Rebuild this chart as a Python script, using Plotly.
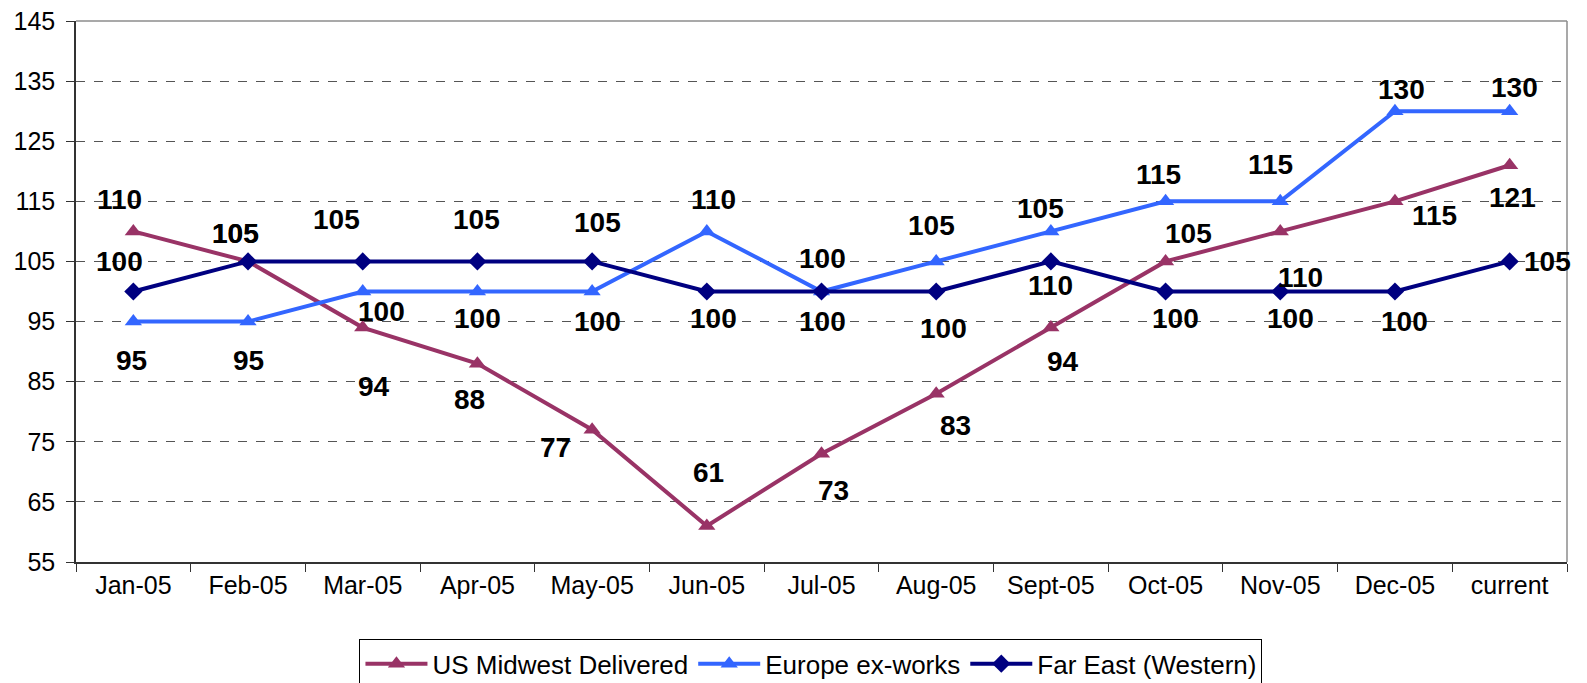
import plotly.graph_objects as go

# Price index by month
months = ["Jan-05", "Feb-05", "Mar-05", "Apr-05", "May-05", "Jun-05", "Jul-05",
          "Aug-05", "Sept-05", "Oct-05", "Nov-05", "Dec-05", "current"]
us_midwest = [110, 105, 94, 88, 77, 61, 73, 83, 94, 105, 110, 115, 121]
europe = [95, 95, 100, 100, 100, 110, 100, 105, 110, 115, 115, 130, 130]
far_east = [100, 105, 105, 105, 105, 100, 100, 100, 105, 100, 100, 100, 105]

y_ticks = [55, 65, 75, 85, 95, 105, 115, 125, 135, 145]

# Per-point label offsets in pixels (dx right, dy down)
us_offsets = [(-14, -32), (-13, -28), (11, 59), (-8, 36), (-37, 18), (2, -53), (12, 37),
              (19, 32), (12, 34), (23, -28), (20, 46), (40, 14), (3, 32)]
eu_offsets = [(-2, 39), (0, 39), (19, 20), (0, 27), (5, 30), (7, -32), (1, -33),
              (-5, -36), (0, 54), (-7, -27), (-10, -37), (7, -22), (5, -24)]
fe_offsets = [(-14, -30), (-13, -28), (-26, -42), (-1, -42), (5, -39), (7, 27), (1, 30),
              (7, 37), (-10, -53), (10, 27), (10, 27), (10, 30), (38, 0)]

FONT = "Liberation Sans, Arial, sans-serif"

series = [
    ("US Midwest Delivered", us_midwest, "#993366", "triangle-up", 15, us_offsets),
    ("Europe ex-works", europe, "#3366FF", "triangle-up", 15, eu_offsets),
    ("Far East (Western)", far_east, "#000080", "diamond", 14, fe_offsets),
]

fig = go.Figure()
annotations = []
for name, vals, color, sym, msize, offs in series:
    fig.add_trace(go.Scatter(
        x=months, y=vals, name=name, mode="lines+markers",
        line=dict(color=color, width=4),
        marker=dict(symbol=sym, size=msize, color=color),
    ))
    for m, v, (dx, dy) in zip(months, vals, offs):
        annotations.append(dict(
            x=m, y=v, xref="x", yref="y", text=str(v), showarrow=False,
            xshift=dx, yshift=-dy,
            font=dict(family=FONT, size=28, color="black", weight="bold"),
        ))

fig.update_layout(
    width=1587, height=683,
    margin=dict(l=76, r=20, t=21, b=121, autoexpand=False),
    paper_bgcolor="white", plot_bgcolor="white",
    font=dict(family=FONT, color="black"),
    annotations=annotations,
    showlegend=True,
    legend=dict(
        orientation="h", xref="container", yref="container",
        x=0.511, xanchor="center", y=0.064, yanchor="top",
        bordercolor="black", borderwidth=1, bgcolor="white",
        font=dict(family=FONT, size=26, color="black"),
        itemwidth=62, traceorder="normal",
    ),
    shapes=[
        # light frame on the top and right of the plot area
        dict(type="line", xref="paper", yref="paper", x0=0, x1=1, y0=1, y1=1,
             line=dict(color="#8c8c8c", width=1.5)),
        dict(type="line", xref="paper", yref="paper", x0=1, x1=1, y0=0, y1=1,
             line=dict(color="#8c8c8c", width=1.5)),
    ],
)

fig.update_xaxes(
    type="category", range=[-0.5, len(months) - 0.5],
    showline=True, linecolor="#333333", linewidth=1.5,
    ticks="outside", tickson="boundaries", ticklen=8, tickcolor="#333333",
    showgrid=False, tickfont=dict(family=FONT, size=25, color="black"),
    zeroline=False,
)
fig.update_yaxes(
    range=[55, 145], tickvals=y_ticks,
    showline=True, linecolor="#333333", linewidth=1.5,
    ticks="outside", ticklen=8, tickcolor="#333333",
    showgrid=True, gridcolor="#555555", gridwidth=1, griddash="dash",
    tickfont=dict(family=FONT, size=25, color="black"),
    ticklabelstandoff=6, zeroline=False,
)

fig.write_html("out.html")
